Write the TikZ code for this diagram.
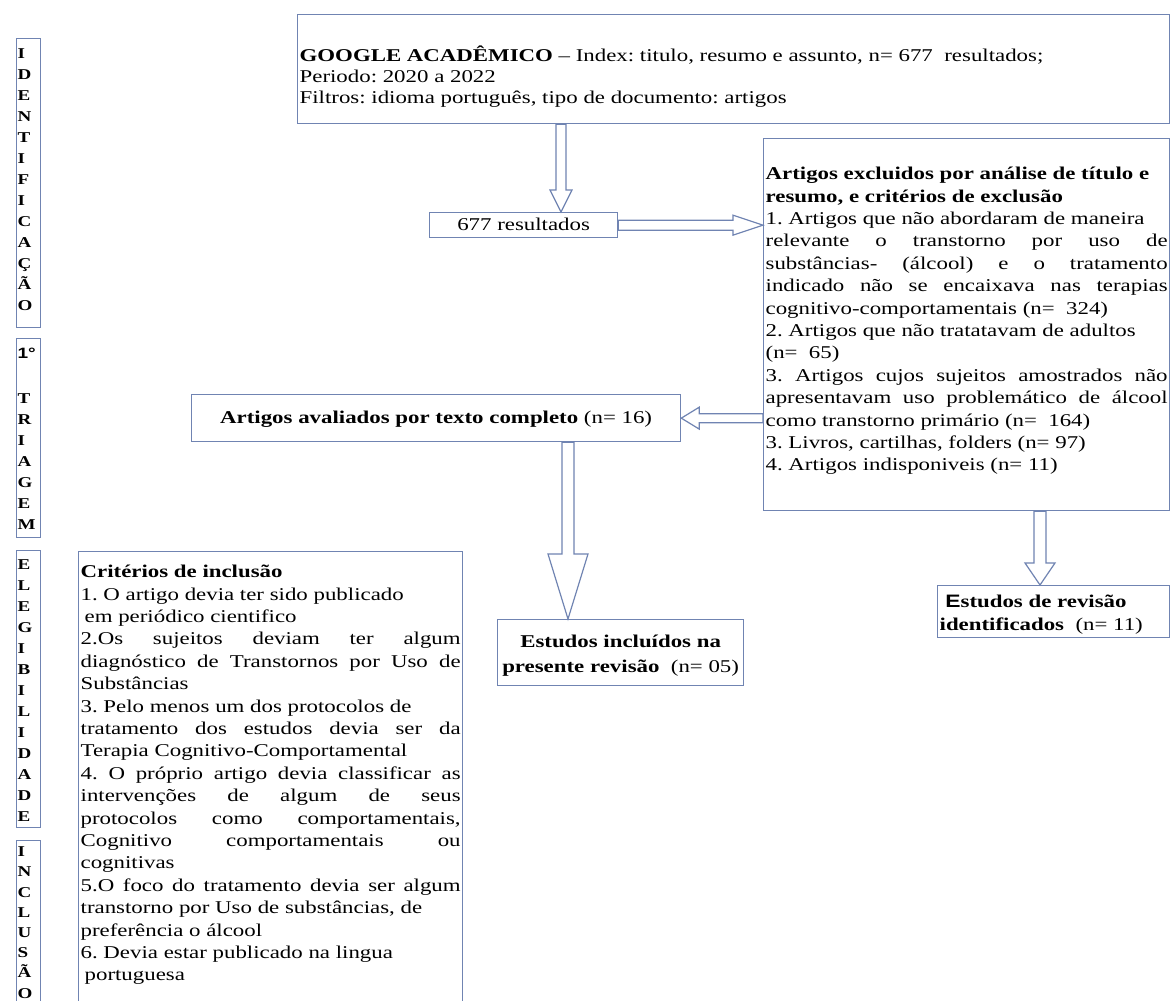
\documentclass[tikz,border=0pt]{standalone}
\usepackage{fontspec}
\setmainfont{Liberation Serif}[FakeStretch=1.27]
\setsansfont{Liberation Sans}[FakeStretch=1.27]
\usetikzlibrary{calc}
\definecolor{boxline}{RGB}{112,132,178}
\frenchspacing
\tikzset{
  box/.style={draw=boxline,line width=1.3pt,fill=white,inner xsep=2pt,inner ysep=0pt,anchor=north west,font=\fontsize{18}{22.4}\selectfont},
  sidebox/.style={box,inner xsep=1pt,font=\fontsize{15}{21}\selectfont\bfseries},
  arrowline/.style={draw=boxline,line width=1.2pt,fill=white,line join=miter}
}
\newcommand{\boxtext}[4]{\parbox[t][#1pt][t]{#2pt}{\rule{0pt}{#3pt}#4}}
\newcommand{\jl}[1]{\makebox[\linewidth][s]{#1}}
\newcommand{\hollowarrow}[5]{%
  \coordinate (ha-s) at (#1);
  \coordinate (ha-e) at (#2);
  \coordinate (ha-b) at ($(ha-e)!#5pt!(ha-s)$);
  \draw[arrowline]($(ha-s)!#3pt!90:(ha-e)$)--($(ha-b)!#3pt!90:(ha-e)$)--($(ha-b)!#4pt!90:(ha-e)$)--(ha-e)
    --($(ha-b)!#4pt!-90:(ha-e)$)--($(ha-b)!#3pt!-90:(ha-e)$)--($(ha-s)!#3pt!-90:(ha-e)$)--cycle;
}
\begin{document}
\begin{tikzpicture}[x=1pt,y=-1pt]
\useasboundingbox[fill=white](0,0) rectangle (1171,1001);
\node[sidebox](lid) at (16,38) {\boxtext{289}{22}{20}{I\\D\\E\\N\\T\\I\\F\\I\\C\\A\\Ç\\Ã\\O}};
\node[sidebox](ltr) at (16,338) {\boxtext{199}{22}{20}{{\sffamily 1°}\\[24pt]T\\R\\I\\A\\G\\E\\M}};
\node[sidebox](lel) at (16,550) {\boxtext{277}{22}{19}{E\\L\\E\\G\\I\\B\\I\\L\\I\\D\\A\\D\\E}};
\node[sidebox,font=\fontsize{15}{20.2}\selectfont\bfseries](lin) at (16,840) {\boxtext{200}{22}{16}{I\\N\\C\\L\\U\\S\\Ã\\O}};
\node[box,font=\fontsize{18}{21}\selectfont](top) at (297,14) {\boxtext{109}{868}{47}{\textbf{GOOGLE ACADÊMICO} – Index: titulo, resumo e assunto, n= 677\ \ resultados;\\
Periodo: 2020 a 2022\\
Filtros: idioma português, tipo de documento: artigos}};
\node[box](res) at (429,212) {\boxtext{25}{184}{18}{\centering 677 resultados}};
\node[box](excl) at (763,138) {\boxtext{372}{402}{41}{\textbf{Artigos excluidos por análise de título e}\\
\textbf{resumo, e critérios de exclusão}\\
1. Artigos que não abordaram de maneira\\
\jl{relevante o transtorno por uso de}\\
\jl{substâncias- (álcool) e o tratamento}\\
\jl{indicado não se encaixava nas terapias}\\
cognitivo-comportamentais (n=\ \ 324)\\
2. Artigos que não tratatavam de adultos\\
(n=\ \ 65)\\
\jl{3. Artigos cujos sujeitos amostrados não}\\
\jl{apresentavam uso problemático de álcool}\\
como transtorno primário (n=\ \ 164)\\
3. Livros, cartilhas, folders (n= 97)\\
4. Artigos indisponiveis (n= 11)}};
\node[box](aval) at (191,394) {\boxtext{47}{485}{29}{\centering\textbf{Artigos avaliados por texto completo} (n= 16)}};
\node[box,font=\fontsize{18}{25}\selectfont](incl) at (497,619) {\boxtext{66}{242}{28}{\centering\textbf{Estudos incluídos na}\\\textbf{presente revisão}\ \ (n= 05)}};
\node[box,font=\fontsize{18}{23}\selectfont](rev) at (937,585) {\boxtext{52}{228}{22}{\ \textbf{{\sffamily E}studos de revisão}\\\textbf{identificados}\ \ (n= 11)}};
\node[box](crit) at (78,551) {\boxtext{470}{380}{26}{\textbf{Critérios de inclusão}\\
1. O artigo devia ter sido publicado\\
\hspace*{4pt}em periódico cientifico\\
\jl{2.Os sujeitos deviam ter algum}\\
\jl{diagnóstico de Transtornos por Uso de}\\
Substâncias\\
3. Pelo menos um dos protocolos de\\
\jl{tratamento dos estudos devia ser da}\\
Terapia Cognitivo-Comportamental\\
\jl{4. O próprio artigo devia classificar as}\\
\jl{intervenções de algum de seus}\\
\jl{protocolos como comportamentais,}\\
\jl{Cognitivo comportamentais ou}\\
cognitivas\\
\jl{5.O foco do tratamento devia ser algum}\\
transtorno por Uso de substâncias, de\\
preferência o álcool\\
6. Devia estar publicado na lingua\\
\hspace*{4pt}portuguesa}};
\coordinate (ax1) at (561,0);
\coordinate (ax2) at (568,0);
\coordinate (ax3) at (1040,0);
\hollowarrow{top.south -| ax1}{res.north -| ax1}{5}{11}{22}
\hollowarrow{res.east}{excl.west |- res.east}{5}{10}{30}
\hollowarrow{excl.west |- aval.east}{aval.east}{4.5}{11}{18}
\hollowarrow{aval.south -| ax2}{incl.north -| ax2}{6}{20}{65}
\hollowarrow{excl.south -| ax3}{rev.north -| ax3}{6}{15}{22}
\end{tikzpicture}
\end{document}
